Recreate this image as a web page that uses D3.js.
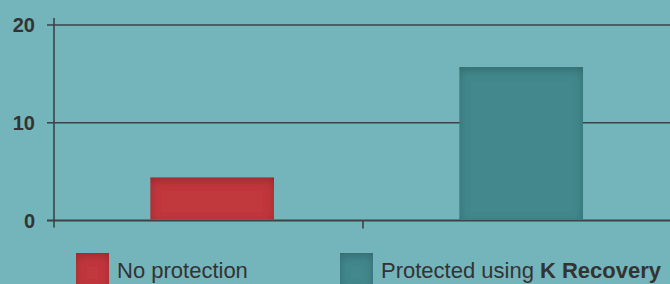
<!DOCTYPE html>
<html>
<head>
<meta charset="utf-8">
<script src="https://cdn.jsdelivr.net/npm/d3@7"></script>
<style>
  html, body { margin: 0; padding: 0; background: #74b5bb; }
  svg { display: block; font-family: "Liberation Sans", Arial, sans-serif; }
</style>
</head>
<body>
<svg id="chart" width="670" height="284"></svg>
<script>
// data
const categories = ["No protection", "Protected using K Recovery"];
const values = [4.4, 15.7];
const barColors = ["#c1393d", "#43888c"];
const yTicks = [0, 10, 20];

const width = 670, height = 284;
const marginLeft = 54, marginTop = 25, plotBottom = 220.5;

const svg = d3.select("#chart");

// inset shadow for the bars
const defs = svg.append("defs");
const f = defs.append("filter").attr("id", "inset")
    .attr("x", "-100%").attr("y", "-100%").attr("width", "300%").attr("height", "300%");
f.append("feFlood").attr("flood-color", "#000").attr("flood-opacity", 0.42);
f.append("feComposite").attr("in2", "SourceAlpha").attr("operator", "out");
f.append("feOffset").attr("dy", 3);
f.append("feGaussianBlur").attr("stdDeviation", 5);
f.append("feComposite").attr("in2", "SourceAlpha").attr("operator", "in").attr("result", "shadow");
const m = f.append("feMerge");
m.append("feMergeNode").attr("in", "SourceGraphic");
m.append("feMergeNode").attr("in", "shadow");

const x = d3.scaleBand().domain(categories).range([marginLeft, 672]).padding(0);
// position of the bar inside its category slot
const xInner = d3.scaleBand().domain(["bar"]).range([0, x.bandwidth()])
    .paddingInner(0.6).paddingOuter(0.3).align(0.52);
const y = d3.scaleLinear().domain([0, 20]).range([plotBottom, marginTop]);

// gridlines
svg.append("g")
  .selectAll("line")
  .data(yTicks)
  .join("line")
    .attr("x1", 47).attr("x2", width)
    .attr("y1", d => y(d)).attr("y2", d => y(d))
    .attr("stroke", "#3c4346")
    .attr("stroke-width", d => d === 0 ? 2.2 : 1.6);

// y axis line
svg.append("line")
    .attr("x1", marginLeft).attr("x2", marginLeft)
    .attr("y1", y(20) - 7).attr("y2", y(0) + 7)
    .attr("stroke", "#3c4346").attr("stroke-width", 1.6);

// x tick between categories
svg.append("g")
  .selectAll("line")
  .data(categories.slice(1))
  .join("line")
    .attr("x1", d => x(d)).attr("x2", d => x(d))
    .attr("y1", y(0)).attr("y2", y(0) + 8)
    .attr("stroke", "#3c4346").attr("stroke-width", 1.6);

// y tick labels
svg.append("g")
  .selectAll("text")
  .data(yTicks)
  .join("text")
    .attr("x", 35)
    .attr("y", d => y(d))
    .attr("dy", "0.36em")
    .attr("text-anchor", "end")
    .attr("font-size", 20)
    .attr("font-weight", "bold")
    .attr("fill", "#333")
    .text(d => d);

// bars
svg.append("g")
  .selectAll("rect")
  .data(values)
  .join("rect")
    .attr("x", (d, i) => x(categories[i]) + xInner("bar"))
    .attr("y", d => y(d))
    .attr("width", xInner.bandwidth())
    .attr("height", d => y(0) - y(d) - 1)
    .attr("fill", (d, i) => barColors[i])
    .attr("filter", "url(#inset)");

// legend
const legendX = [76, 340];
const legend = svg.append("g")
  .selectAll("g")
  .data(categories)
  .join("g")
    .attr("transform", (d, i) => `translate(${legendX[i]},253)`);

legend.append("rect")
    .attr("width", 33).attr("height", 34)
    .attr("fill", (d, i) => barColors[i])
    .attr("filter", "url(#inset)");

const lt = legend.append("text")
    .attr("x", 41).attr("y", 25)
    .attr("font-size", 22)
    .attr("fill", "#333");
lt.append("tspan").text(d => d.startsWith("Protected") ? "Protected using " : d);
lt.filter(d => d.startsWith("Protected"))
  .append("tspan").attr("font-weight", "bold").text("K Recovery");
</script>
</body>
</html>
